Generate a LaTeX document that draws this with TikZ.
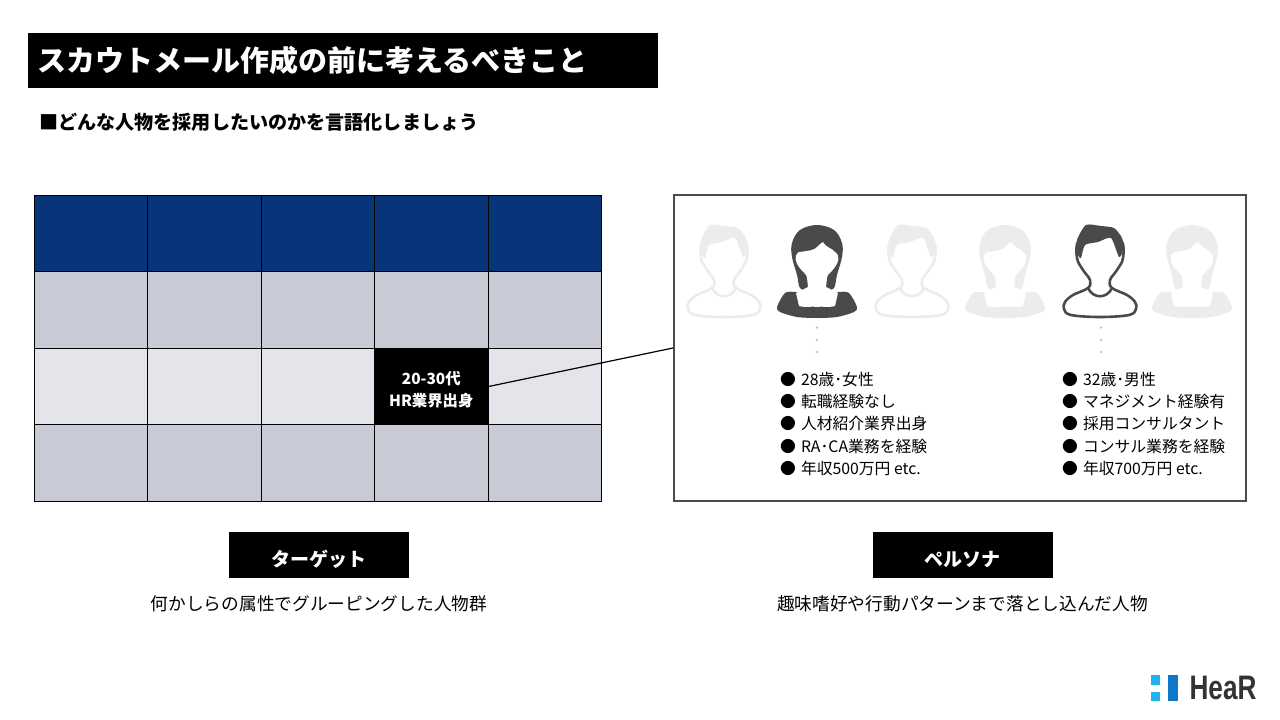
\documentclass[tikz,border=0pt]{standalone}
\usepackage{fontspec}
\setmainfont{Noto Sans CJK JP}
\newfontfamily\logofont{Liberation Sans}
\definecolor{headblue}{HTML}{08347A}
\definecolor{midgray}{HTML}{C8CBD6}
\definecolor{lightgray}{HTML}{E4E5EA}
\definecolor{icondark}{HTML}{4A4A4A}
\definecolor{iconghost}{HTML}{ECECEC}
\definecolor{dotgray}{HTML}{C4C4C4}
\definecolor{logolight}{HTML}{1CB4EC}
\definecolor{logodark}{HTML}{0F78C8}
\definecolor{logotext}{HTML}{333333}
\newcommand{\fsize}[1]{\fontsize{#1}{#1}\selectfont}
\tikzset{
  pics/manicon/.style={code={
    \draw[#1,line width=2.6pt,fill=white] plot[smooth cycle,tension=.6] coordinates {
      (-23,33) (-17,45) (-10,55) (-12,63) (-27,70) (-35,77) (-36,84) (-29,90) (0,92)
      (29,90) (36,84) (35,77) (27,70) (12,63) (10,55) (17,45) (23,33) (21,15) (0,5) (-21,15)};
    \draw[#1,line width=2.6pt] (-12,63) .. controls (-7,74) and (7,74) .. (12,63);
    \fill[#1] plot[smooth cycle,tension=.4] coordinates {
      (-14,0) (-23,15) (-22,30) (-19,33) (-15,20) (-2,17) (11,13) (19,32) (23,25)
      (22,13) (14,3) (1,1)};
  }},
  pics/womanicon/.style={code={
    \fill[#1] plot[smooth cycle,tension=.6] coordinates {
      (0,0) (-17,5) (-25,18) (-25,32) (-20,50) (-17,63) (-9,66) (9,66) (17,63)
      (20,50) (25,32) (25,18) (17,5)};
    \fill[#1] plot[smooth cycle,tension=.45] coordinates {
      (-40,82) (-32,68) (-21,67) (0,70) (21,67) (32,68) (40,82) (37,87) (20,92)
      (0,93) (-20,92) (-37,87)};
    \fill[white] (6,17) .. controls (8,22) and (15,23) .. (18,27)
      .. controls (24,31) and (21,38) .. (18,42)
      .. controls (14,48) and (10,49) .. (10,53)
      -- (9,62) -- (21,68) -- (18,81)
      .. controls (10,83) and (8,81) .. (0,82)
      .. controls (-8,81) and (-10,83) .. (-18,81)
      -- (-21,68) -- (-9,62) -- (-10,53)
      .. controls (-10,49) and (-14,48) .. (-18,42)
      .. controls (-21,38) and (-24,31) .. (-18,27)
      .. controls (-9,26) and (-2,25) .. (0,22)
      .. controls (2,20) and (4,18) .. (6,17) -- cycle;
  }}
}
\begin{document}
\begin{tikzpicture}
[x=1pt,y=-1pt,
  cell/.style={shape=rectangle,draw=black,line width=1pt,inner sep=0pt,
    minimum width=113.5pt,minimum height=76.5pt},%
  labelbox/.style={shape=rectangle,fill=black,text=white,inner sep=0pt,
    minimum width=180pt,minimum height=46pt,text height=24pt,text depth=2pt,
    font=\fsize{19}\bfseries},%
  caption/.style={font=\fsize{17.7}},%
  listline/.style={anchor=west,inner sep=0pt,font=\fsize{15.8}}]
\useasboundingbox (0,0) rectangle (1280,720);
%% heading
\node (title) at (343,60.5) [shape=rectangle,fill=black,text=white,inner sep=0pt,
  minimum width=630pt,minimum height=55pt,text width=612pt,
  font=\fsize{29}\bfseries] {スカウトメール作成の前に考えるべきこと};
\node (subtitle) at (39,122) [anchor=west,inner sep=0pt,font=\fsize{19.1}\bfseries]
  {■どんな人物を採用したいのかを言語化しましょう};
%% table cells
\foreach \rowname/\y/\shade in {
  1/233.5/headblue, 2/310/midgray, 3/386.5/lightgray, 4/463/midgray} {
  \foreach \colname/\x in {1/90.8, 2/204.3, 3/317.8, 4/431.3, 5/544.8} {
    \node (cell\rowname\colname) at (\x,\y) [cell,fill=\shade] {};
  }
}
\node (hrcell) at (cell34) [cell,fill=black,text=white,align=center,
  font=\fsize{15.4}\bfseries] {\rule{0pt}{19pt}20-30代\\[6.5pt]HR業界出身};
%% persona frame
\node (personabox) at (960,348) [shape=rectangle,draw=icondark,line width=2pt,
  inner sep=0pt,minimum width=572pt,minimum height=306pt] {};
\draw[line width=1.2pt] (hrcell.east) -- (personabox.west);
%% icons
\foreach \iconname/\x/\shape/\shade in {
  a/724/manicon/iconghost, b/817/womanicon/icondark, c/912/manicon/iconghost,
  d/1005/womanicon/iconghost, e/1100/manicon/icondark, f/1192/womanicon/iconghost} {
  \pic (\iconname) at (\x,225) {\shape=\shade};
}
%% dots under the two chosen icons
\foreach \x in {817,1101} {
  \foreach \y in {327.5,340,352} {
    \fill[dotgray] (\x,\y) circle (1.4pt);
  }
}
%% lists
\foreach \linename/\y/\lefttext/\righttext in {
  1/379.5/28歳･女性/32歳･男性,
  2/401.5/転職経験なし/マネジメント経験有,
  3/424/人材紹介業界出身/採用コンサルタント,
  4/446.5/RA･CA業務を経験/コンサル業務を経験,
  5/468.5/年収500万円 etc./年収700万円 etc.} {
  \node (leftline\linename) at (780,\y) [listline] {●\hspace{5pt}\lefttext};
  \node (rightline\linename) at (1062,\y) [listline] {●\hspace{5pt}\righttext};
}
%% labels
\node (targetlabel) at (319,555) [labelbox] {ターゲット};
\node (personalabel) at (962.5,555) [labelbox] {ペルソナ};
\node (targetnote) at (319,604) [caption] {何かしらの属性でグルーピングした人物群};
\node (personanote) at (962.5,604) [caption] {趣味嗜好や行動パターンまで落とし込んだ人物};
%% logo
\fill[logolight] (1151,675) rectangle (1160,685);
\fill[logolight] (1151,692) rectangle (1160,701);
\fill[logodark] (1168,675) rectangle (1178,701);
\node (logo) at (1223,688) [inner sep=0pt,text=logotext,xscale=.77,
  font=\logofont\fsize{34}\bfseries] {HeaR};
\end{tikzpicture}
\end{document}
